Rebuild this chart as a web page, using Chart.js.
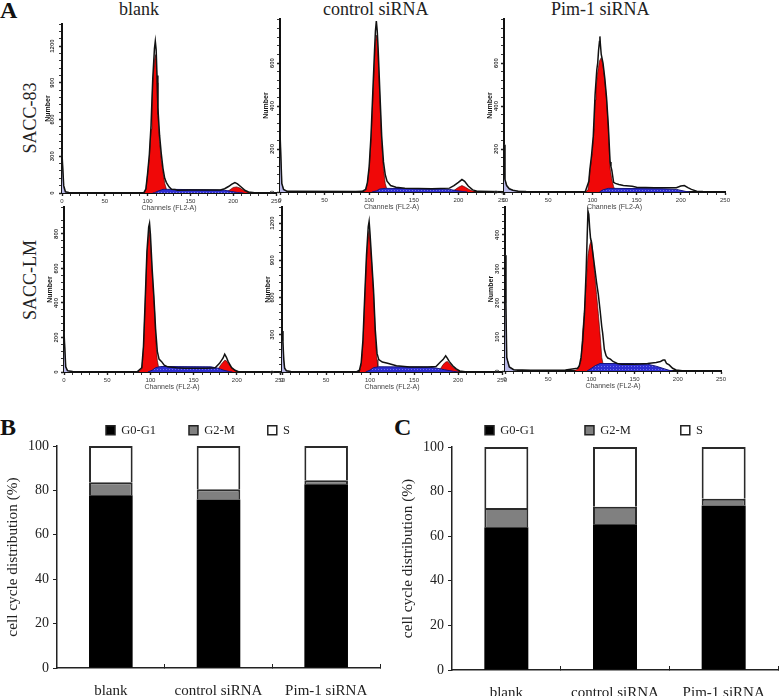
<!DOCTYPE html>
<html>
<head>
<meta charset="utf-8">
<title>Cell cycle distribution</title>
<script src="https://cdn.jsdelivr.net/npm/chart.js@4/dist/chart.umd.min.js"></script>
<style>
  html, body { margin: 0; padding: 0; background: #fff; }
  #page { position: relative; width: 779px; height: 696px; overflow: hidden; }
  canvas { position: absolute; }
  .lbl { position: absolute; font-family: "Liberation Serif", serif; font-size: 18px; color: #222; white-space: nowrap; line-height: 1; }
  .letter { font-weight: bold; font-size: 24px; color: #111; }
  .side { transform: translate(-50%, -50%) rotate(-90deg); }
</style>
</head>
<body>
<div id="page">
  <div class="lbl letter" style="left:0px;top:-2px">A</div>
  <div class="lbl letter" style="left:0px;top:415px">B</div>
  <div class="lbl letter" style="left:394px;top:415px">C</div>
  <div class="lbl" style="left:119px;top:0px">blank</div>
  <div class="lbl" style="left:323px;top:0px">control siRNA</div>
  <div class="lbl" style="left:551px;top:0px">Pim-1 siRNA</div>
  <div class="lbl side" style="left:30px;top:118px">SACC-83</div>
  <div class="lbl side" style="left:30px;top:280px">SACC-LM</div>
</div>
<script>
// histogram values, [channel, count]
const blank83Total = [[0,320],[1,320],[2,60],[4,10],[8,5],[90,3],[96,5],[98,35],[100,160],[102,310],[104,550],[106,930],[108,1180],[109,1240],[110,1170],[111,960],[112,700],[114,470],[116,320],[118,200],[120,120],[122,85],[125,50],[128,30],[132,28],[135,22],[150,25],[185,25],[190,35],[195,55],[198,70],[202,85],[205,75],[210,45],[214,20],[218,8],[225,3],[250,2]];
const blank83G1 = [[95,2],[98,30],[100,150],[102,290],[104,520],[105,700],[106,900],[108,1080],[109,1130],[110,1080],[111,900],[112,640],[114,420],[116,270],[118,170],[120,80],[122,30],[124,5],[126,0]];
const blank83S = [[106,0],[108,2],[112,15],[118,30],[125,30],[180,25],[190,22],[198,12],[205,4],[212,0]];
const blank83G2 = [[188,0],[192,10],[196,25],[200,45],[204,50],[208,40],[212,22],[216,8],[220,0]];
const blank83Debris = [[0,320],[1,320],[2,40],[4,8],[8,0]];

const control83Total = [[0,280],[1,280],[2,40],[4,12],[8,3],[85,2],[92,3],[96,12],[98,45],[100,120],[102,260],[104,460],[106,660],[107,750],[108,795],[109,750],[110,670],[112,460],[114,260],[116,140],[118,80],[120,50],[124,30],[130,22],[140,18],[170,15],[190,18],[195,30],[200,45],[204,58],[207,50],[211,28],[216,10],[222,3],[250,1]];
const control83G1 = [[90,0],[94,2],[96,8],[98,40],[100,110],[102,240],[104,430],[106,620],[107,700],[108,730],[109,700],[110,630],[112,430],[114,230],[116,110],[118,40],[120,10],[123,0]];
const control83S = [[103,0],[108,5],[112,14],[118,17],[180,14],[190,12],[198,6],[205,2],[210,0]];
const control83G2 = [[192,0],[196,10],[200,22],[204,30],[208,22],[212,12],[216,5],[220,0]];
const control83Debris = [[0,280],[1,280],[2,40],[4,12],[8,3],[14,0]];

const pim83Total = [[0,220],[1,60],[3,30],[6,15],[10,8],[16,4],[25,2],[50,1],[92,2],[96,50],[97,100],[99,170],[101,260],[103,450],[105,570],[106,600],[107,660],[108,700],[108.5,724],[109,690],[110,640],[112,600],[114,530],[116,440],[118,310],[120,140],[121,118],[122,100],[124,45],[126,40],[130,35],[135,30],[145,27],[150,22],[170,20],[195,20],[200,28],[204,30],[208,20],[212,12],[218,4],[225,2],[250,1]];
const pim83G1 = [[92,0],[95,10],[97,90],[98,120],[100,190],[102,300],[103,428],[104,480],[106,560],[108,610],[110,625],[112,590],[114,520],[116,430],[118,300],[120,110],[122,60],[124,25],[126,8],[128,0]];
const pim83S = [[108,0],[112,10],[118,17],[180,15],[195,12],[205,3],[210,0]];
const pim83G2 = [];
const pim83Debris = [[0,220],[1,60],[3,30],[6,15],[10,8],[16,4],[25,2],[30,0]];

const blankLmTotal = [[0,230],[1,230],[2,30],[4,8],[10,3],[85,2],[90,25],[92,150],[94,420],[96,700],[98,840],[99,862],[100,800],[102,600],[104,440],[106,250],[108,120],[110,75],[113,60],[116,40],[120,30],[130,25],[140,22],[165,22],[175,24],[180,50],[184,80],[186,103],[188,85],[190,60],[194,25],[198,10],[202,2],[210,1],[250,1]];
const blankLmG1 = [[86,0],[90,20],[91,68],[92,140],[94,400],[96,680],[98,800],[99,822],[100,760],[102,580],[104,420],[105,340],[106,220],[107,130],[108,68],[110,15],[112,0]];
const blankLmS = [[97,0],[102,10],[106,25],[112,32],[170,30],[178,22],[185,10],[192,2],[195,0]];
const blankLmG2 = [[174,0],[178,15],[182,45],[186,68],[188,65],[190,50],[194,25],[198,8],[201,0]];
const blankLmDebris = [[0,230],[1,230],[2,30],[4,8],[8,0]];

const controlLmTotal = [[0,330],[1,250],[2,100],[3,30],[5,10],[10,4],[85,3],[88,15],[90,75],[92,260],[94,610],[96,940],[98,1170],[99,1214],[100,1120],[102,890],[104,660],[106,340],[108,150],[110,100],[114,80],[120,70],[130,50],[145,40],[165,40],[175,45],[180,80],[183,100],[186,130],[188,110],[190,85],[194,50],[198,25],[202,8],[208,2],[250,1]];
const controlLmG1 = [[88,2],[89,30],[90,60],[92,230],[94,580],[96,900],[98,1110],[99,1140],[100,1080],[102,860],[104,640],[105,480],[106,300],[107,180],[108,100],[109,40],[111,5],[112,0]];
const controlLmS = [[95,0],[100,15],[104,35],[110,42],[165,40],[175,32],[185,18],[195,5],[200,0]];
const controlLmG2 = [[178,0],[180,25],[183,60],[186,80],[188,85],[190,70],[194,40],[198,18],[202,0]];
const controlLmDebris = [[0,330],[1,250],[2,100],[3,30],[5,10],[10,0]];

const pimLmTotal = [[0,340],[1,200],[2,40],[3,30],[5,12],[10,4],[30,2],[70,3],[78,6],[84,8],[86,15],[88,40],[90,90],[92,170],[94,300],[96,470],[97,460],[98,420],[99,390],[100,380],[102,340],[104,300],[106,260],[108,225],[110,180],[112,130],[113,112],[115,63],[117,45],[119,38],[122,35],[125,28],[130,22],[135,20],[150,20],[165,22],[175,25],[180,28],[183,32],[185,32],[187,22],[190,18],[194,8],[198,3],[205,1],[250,0]];
const pimLmG1 = [[80,0],[84,5],[88,30],[90,120],[92,180],[94,260],[96,340],[98,370],[100,385],[102,340],[104,280],[106,225],[108,170],[110,110],[112,40],[114,15],[116,3],[118,0]];
const pimLmS = [[95,0],[100,8],[104,15],[110,22],[150,22],[165,20],[175,14],[185,6],[190,2],[194,0]];
const pimLmG2 = [];
const pimLmDebris = [[0,340],[1,200],[2,40],[3,30],[5,12],[10,4],[14,0]];

// stacked bars
const barCategories = ['blank', 'control siRNA', 'Pim-1 siRNA'];
const barSeriesNames = ['G0-G1', 'G2-M', 'S'];
const panelBG0G1 = [77.8, 75.9, 82.8];
const panelBG2M = [5.9, 4.6, 1.8];
const panelBS = [16.3, 19.5, 15.4];
const panelCG0G1 = [64, 65.4, 73.8];
const panelCG2M = [8.7, 7.8, 3];
const panelCS = [27.3, 26.8, 23.2];
const barTicks = [0, 20, 40, 60, 80, 100];

const page = document.getElementById('page');
const sans = '"Liberation Sans", Arial, sans-serif';
const serif = '"Liberation Serif", serif';

function addCanvas(left, top, width, height) {
  const c = document.createElement('canvas');
  c.width = width;
  c.height = height;
  c.style.left = left + 'px';
  c.style.top = top + 'px';
  c.style.width = width + 'px';
  c.style.height = height + 'px';
  page.appendChild(c);
  return c;
}

// blue S-phase fill has a small cross hatch in the original
function hatch() {
  const p = document.createElement('canvas');
  p.width = 3;
  p.height = 3;
  const g = p.getContext('2d');
  g.fillStyle = '#2e2ed2';
  g.fillRect(0, 0, 3, 3);
  g.fillStyle = '#7474e8';
  g.fillRect(1, 1, 1, 1);
  return g.createPattern(p, 'repeat');
}

const toXY = pairs => pairs.map(p => ({ x: p[0], y: p[1] }));

function histogram(box, series, yMax, yMinor, yMajor) {
  const axisW = 22, belowH = 19, aboveH = 4, rightP = 9;
  const c = addCanvas(box.x0 - axisW, box.top - aboveH, box.x250 - box.x0 + axisW + rightP, box.y0 - box.top + aboveH + belowH);
  const line = { pointRadius: 0, tension: 0, parsing: false };
  new Chart(c, {
    type: 'line',
    data: {
      datasets: [
        { ...line, data: toXY(series.total), borderColor: '#111', borderWidth: 1.5, fill: false },
        { ...line, data: toXY(series.s), borderColor: '#15157a', borderWidth: 1, backgroundColor: hatch(), fill: 'origin' },
        { ...line, data: toXY(series.g1), borderColor: '#3a0000', borderWidth: 0.6, backgroundColor: '#f00808', fill: 'origin' },
        { ...line, data: toXY(series.g2), borderColor: '#3a0000', borderWidth: 0.6, backgroundColor: '#f00808', fill: 'origin' },
        { ...line, data: toXY(series.debris), borderColor: '#777', borderWidth: 0.8, backgroundColor: '#b9b9e8', fill: 'origin' }
      ]
    },
    options: {
      responsive: false,
      animation: false,
      layout: { autoPadding: false, padding: { top: aboveH, right: rightP, left: 0, bottom: 0 } },
      plugins: { legend: { display: false }, tooltip: { enabled: false } },
      scales: {
        x: {
          type: 'linear', min: 0, max: 250,
          afterFit: s => { s.height = belowH; },
          border: { color: '#111', width: 2 },
          grid: { drawOnChartArea: false, tickLength: 3, tickColor: '#222',
            tickWidth: ctx => (ctx.tick.value % 50 === 0 ? 1.4 : 0.9) },
          ticks: { stepSize: 10, autoSkip: false, maxRotation: 0, padding: 2, color: '#333',
            font: { family: sans, size: 6 },
            callback: v => (v % 50 === 0 ? String(v) : '') },
          title: { display: true, text: 'Channels (FL2-A)', color: '#444', padding: 0,
            font: { family: sans, size: 7, lineHeight: 1.2 } }
        },
        y: {
          type: 'linear', min: 0, max: yMax,
          afterFit: s => { s.width = axisW; },
          border: { color: '#111', width: 2 },
          grid: { drawOnChartArea: false, tickLength: 3, tickColor: '#222',
            tickWidth: ctx => (ctx.tick.value % yMajor === 0 ? 1.4 : 0.9) },
          ticks: { stepSize: yMinor, autoSkip: false, minRotation: 90, maxRotation: 90, crossAlign: 'center', padding: 0, color: '#333',
            font: { family: sans, size: 6, weight: 'bold' },
            callback: v => (v % yMajor === 0 ? String(v) : '') },
          title: { display: true, text: 'Number', color: '#111', padding: { top: 3.8, bottom: 0 },
            font: { family: sans, size: 7, weight: 'bold', lineHeight: 1.2 } }
        }
      }
    }
  });
}

histogram({ x0: 62, x250: 276, y0: 193, top: 24 },
  { total: blank83Total, g1: blank83G1, s: blank83S, g2: blank83G2, debris: blank83Debris }, 1380, 60, 300);
histogram({ x0: 280, x250: 503, y0: 192, top: 19 },
  { total: control83Total, g1: control83G1, s: control83S, g2: control83G2, debris: control83Debris }, 805, 40, 200);
histogram({ x0: 504, x250: 725, y0: 192, top: 19 },
  { total: pim83Total, g1: pim83G1, s: pim83S, g2: pim83G2, debris: pim83Debris }, 805, 40, 200);
histogram({ x0: 64, x250: 280, y0: 372, top: 207 },
  { total: blankLmTotal, g1: blankLmG1, s: blankLmS, g2: blankLmG2, debris: blankLmDebris }, 956, 40, 200);
histogram({ x0: 282, x250: 502, y0: 372, top: 207 },
  { total: controlLmTotal, g1: controlLmG1, s: controlLmS, g2: controlLmG2, debris: controlLmDebris }, 1329, 60, 300);
histogram({ x0: 505, x250: 721, y0: 371, top: 207 },
  { total: pimLmTotal, g1: pimLmG1, s: pimLmS, g2: pimLmG2, debris: pimLmDebris }, 482, 20, 100);

// legend padding also pads its top, so pin the legend's height to keep the plot where it belongs,
// and slide it sideways since it is not centred over the canvas in the original
const pinLegend = (h, dx) => ({
  id: 'pinLegend',
  beforeInit(chart) {
    const fit = chart.legend.fit;
    chart.legend.fit = function () { fit.call(this); this.height = h; };
  },
  afterLayout(chart) {
    chart.legend.left += dx;
    chart.legend.right += dx;
  }
});

function stackedBars(box, g0g1, g2m, s) {
  const c = addCanvas(box.left, box.top, box.width, 696 - box.top);
  const bar = { borderColor: '#2a2a2a', borderSkipped: false, barPercentage: 0.405, categoryPercentage: 1 };
  const upper = { top: 2, left: 2, right: 2, bottom: 0 };
  new Chart(c, {
    type: 'bar',
    data: {
      labels: barCategories,
      datasets: [
        { ...bar, label: barSeriesNames[0], data: g0g1, backgroundColor: '#000', borderColor: '#000', borderWidth: 0 },
        { ...bar, label: barSeriesNames[1], data: g2m, backgroundColor: '#808080', borderWidth: upper },
        { ...bar, label: barSeriesNames[2], data: s, backgroundColor: '#fff', borderWidth: upper }
      ]
    },
    plugins: [pinLegend(box.legendH, box.legendShift)],
    options: {
      responsive: false,
      animation: false,
      layout: { autoPadding: false, padding: { top: 0, right: box.right, left: 0, bottom: 0 } },
      plugins: {
        tooltip: { enabled: false },
        legend: { position: 'top', labels: { boxWidth: 9, boxHeight: 9, padding: box.legendPad, color: '#222',
          font: { family: serif, size: 12.5 },
          generateLabels: chart => barSeriesNames.map((name, i) => ({
            text: name, datasetIndex: i, fontColor: '#222', lineWidth: 1.5, strokeStyle: '#222',
            fillStyle: chart.data.datasets[i].backgroundColor
          })) } }
      },
      scales: {
        x: {
          stacked: true,
          afterFit: sc => { sc.height = box.belowH; },
          border: { color: '#222', width: 1.5 },
          grid: { drawOnChartArea: false, tickLength: -4, tickColor: '#222', tickWidth: 1 },
          ticks: { padding: 18, maxRotation: 0, color: '#222', font: { family: serif, size: 15 } }
        },
        y: {
          stacked: true, min: 0, max: 100,
          afterBuildTicks: sc => { sc.ticks = barTicks.map(v => ({ value: v })); },
          afterFit: sc => { sc.width = box.axisW; },
          border: { color: '#222', width: 1.5 },
          grid: { drawOnChartArea: false, tickLength: 4, tickColor: '#222', tickWidth: 1 },
          ticks: { padding: 4, color: '#222', font: { family: serif, size: 14 } },
          title: { display: true, text: 'cell cycle distribution (%)', color: '#222', padding: { top: box.titlePad, bottom: 0 },
            font: { family: serif, size: 15.3, lineHeight: 1.2 } }
        }
      }
    }
  });
}

stackedBars({ left: 0, top: 391, width: 392, right: 12, axisW: 57, belowH: 28, legendH: 55, legendPad: 33, legendShift: 8, titlePad: 4 },
  panelBG0G1, panelBG2M, panelBS);
stackedBars({ left: 390, top: 374, width: 406, right: 18, axisW: 62, belowH: 26, legendH: 73, legendPad: 50, legendShift: 10, titlePad: 9 },
  panelCG0G1, panelCG2M, panelCS);
</script>
</body>
</html>
